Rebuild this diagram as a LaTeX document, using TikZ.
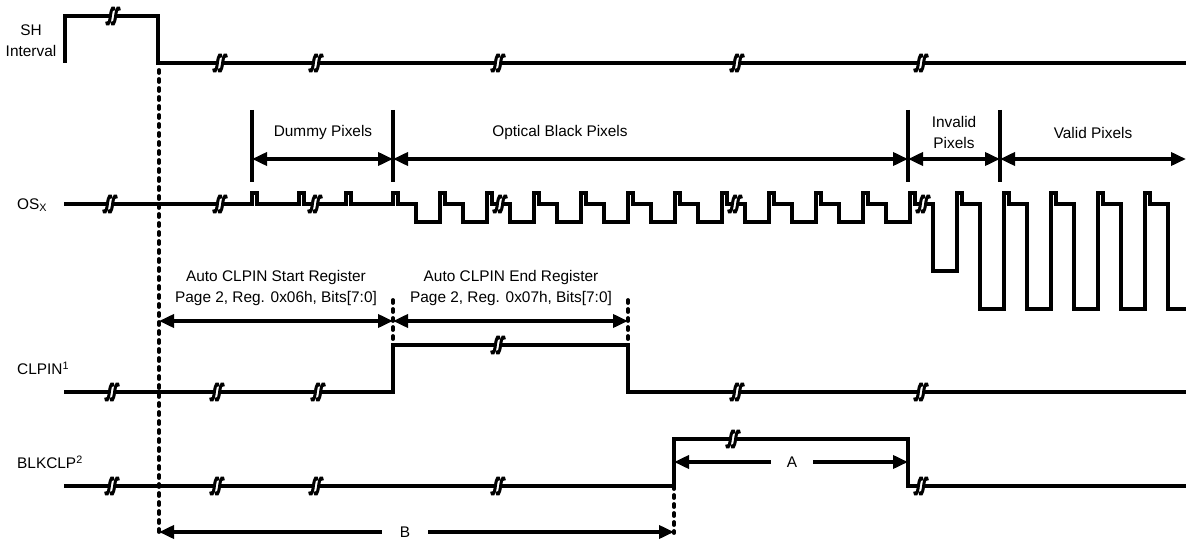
\documentclass[tikz,border=0pt]{standalone}
\usepackage{fontspec}
\setmainfont{Liberation Sans}
\usetikzlibrary{arrows.meta}

\tikzset{
  sig/.style={line width=3.6pt},
  dim/.style={line width=3.6pt},
  marker/.style={line width=3.8pt, line cap=round, dash pattern=on 3pt off 6pt},
  lbl/.style={inner sep=0pt, align=center},
  brk/.pic={
    \fill[white] (-2.6,-2.5) rectangle (2.6,2.5);
    \foreach \dx in {-2.6,2.6}
      \draw[line width=3pt] (\dx-3.8,5.5) .. controls (\dx-3.3,10) and (\dx-1.1,9) .. (\dx,0) .. controls (\dx+1.1,-9) and (\dx+3.3,-10) .. (\dx+3.8,-5.5);
  }
}

\begin{document}
\begin{tikzpicture}[x=1pt, y=-1pt, >={Triangle[length=15pt,width=13pt]}, font=\fontsize{15.4}{21}\selectfont]
        \useasboundingbox (0,0) rectangle (1186,540);

        % Tên tín hiệu
        \node[lbl] (shname) at (31,41) {SH\\Interval};
        \node[lbl, anchor=west] (osname) at (17,205) {OS\textsubscript{X}};
        \node[lbl, anchor=west] (clpname) at (17,368) {CLPIN\textsuperscript{1}};
        \node[lbl, anchor=west] (blkname) at (17,462) {BLKCLP\textsuperscript{2}};

        % Tín hiệu SH
        \draw[sig] (65,63) -- (65,16) -- (158,16) -- (158,63) -- (1186,63);

        % Tín hiệu OSx
        \draw[sig] (64,204) -- (252,204) -- ++(0,-11) -- ++(5,0) -- ++(0,11)
            -- (299,204) -- ++(0,-11) -- ++(5,0) -- ++(0,11)
            -- (346,204) -- ++(0,-11) -- ++(5,0) -- ++(0,11) -- (393,204)
            foreach \k in {0,...,10} { -- (393+47*\k,193) -- (398+47*\k,193) -- (398+47*\k,204) -- (416+47*\k,204) -- (416+47*\k,222) -- (440+47*\k,222) }
            -- (910,193) -- (915,193) -- (915,204) -- (933,204) -- (933,271) -- (957,271)
            foreach \k in {0,...,3} { -- (957+47*\k,193) -- (962+47*\k,193) -- (962+47*\k,204) -- (980+47*\k,204) -- (980+47*\k,309) -- (1004+47*\k,309) }
            -- (1145,193) -- (1150,193) -- (1150,204) -- (1168,204) -- (1168,309) -- (1186,309);

        % Tín hiệu CLPIN và BLKCLP
        \draw[sig] (64,392) -- (393,392) -- (393,345) -- (628,345) -- (628,392) -- (1186,392);
        \draw[sig] (64,486) -- (674,486) -- (674,439) -- (908,439) -- (908,486) -- (1186,486);

        % Dấu ngắt
        \foreach \p in {(113,16),(220,63),(316,63),(498,63),(737,63),(921,63),
                        (110,204),(220,204),(315,204),(500,204),(735,204),(923,204),
                        (112,392),(217,392),(318,392),(498,345),(737,392),(921,392),
                        (112,486),(217,486),(316,486),(498,486),(733,439),(921,486)}
            \pic at \p {brk};

        % Đường đứt nét
        \draw[marker] (159,70) -- (159,533);
        \draw[marker] (393,300) -- (393,345);
        \draw[marker] (628,300) -- (628,345);
        \draw[marker] (674,486) -- (674,533);

        % Vùng điểm ảnh
        \foreach \x in {252,393,908,1000}
            \draw[dim] (\x,110) -- (\x,182);
        \coordinate (px0) at (252,159);
        \coordinate (px1) at (393,159);
        \coordinate (px2) at (908,159);
        \coordinate (px3) at (1000,159);
        \coordinate (px4) at (1186,159);
        \draw[dim, <->] (px0) -- (px1);
        \draw[dim, <->] (px1) -- (px2);
        \draw[dim, <->] (px2) -- (px3);
        \draw[dim, <->] (px3) -- (px4);
        \node[lbl] (dummy) at (323,133) {Dummy Pixels};
        \node[lbl] (optblk) at (560,133) {Optical Black Pixels};
        \node[lbl] (invalid) at (954,132) {Invalid\\Pixels};
        \node[lbl] (valid) at (1093,133) {Valid Pixels};

        % Thanh ghi CLPIN
        \coordinate (cl0) at (159,321);
        \coordinate (cl1) at (393,321);
        \coordinate (cl2) at (628,321);
        \draw[dim, <->] (cl0) -- (cl1);
        \draw[dim, <->] (cl1) -- (cl2);
        \node[lbl] (clstart) at (276,288) {Auto CLPIN Start Register\\Page 2, Reg. 0x06h, Bits[7:0]};
        \node[lbl] (clend) at (511,288) {Auto CLPIN End Register\\Page 2, Reg. 0x07h, Bits[7:0]};

        % Khoảng A và B
        \coordinate (a0) at (674,462);
        \coordinate (a1) at (908,462);
        \node[inner xsep=16pt, inner ysep=0pt] (alab) at (792,462) {A};
        \draw[dim, ->] (alab) -- (a0);
        \draw[dim, ->] (alab) -- (a1);
        \coordinate (b0) at (159,532);
        \coordinate (b1) at (674,532);
        \node[inner xsep=18pt, inner ysep=0pt] (blab) at (405,532) {B};
        \draw[dim, ->] (blab) -- (b0);
        \draw[dim, ->] (blab) -- (b1);
\end{tikzpicture}
\end{document}
